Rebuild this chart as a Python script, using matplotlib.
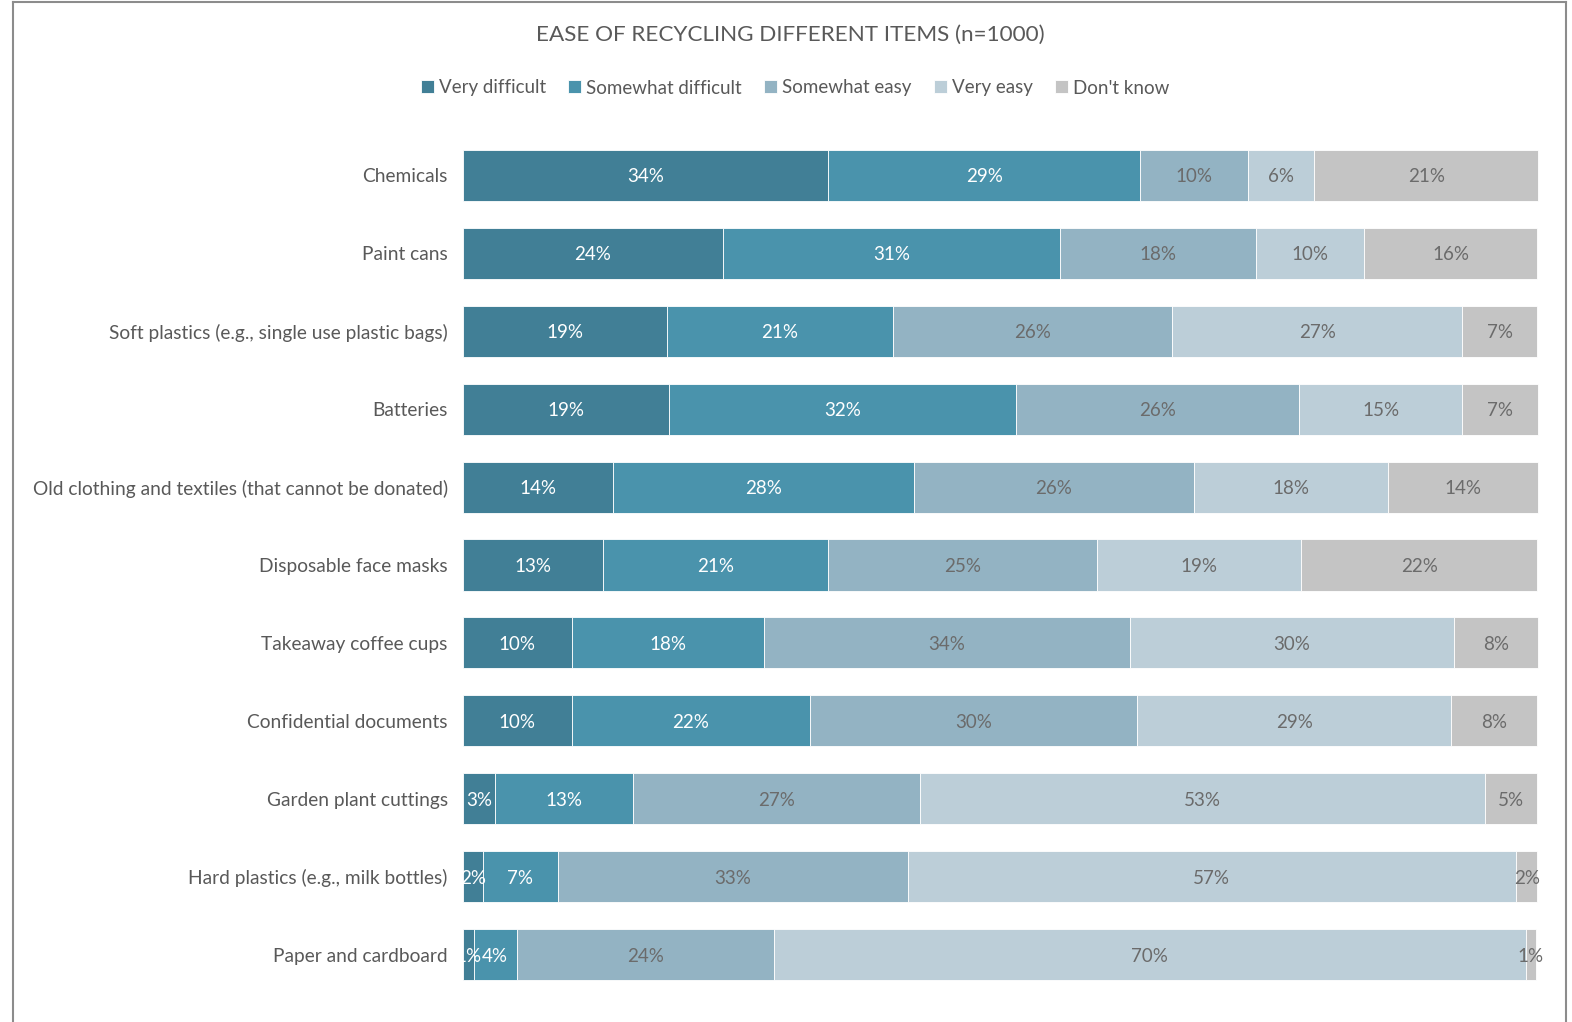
import matplotlib
matplotlib.use("Agg")
from matplotlib import pyplot as plt
from matplotlib.lines import Line2D
import numpy as np

plt.rcParams['font.family'] = ['Lato', 'DejaVu Sans']

# 数据
items = ["Chemicals", "Paint cans", "Soft plastics (e.g., single use plastic bags)",
         "Batteries", "Old clothing and textiles (that cannot be donated)",
         "Disposable face masks", "Takeaway coffee cups", "Confidential documents",
         "Garden plant cuttings", "Hard plastics (e.g., milk bottles)", "Paper and cardboard"]
series = ["Very difficult", "Somewhat difficult", "Somewhat easy", "Very easy", "Don't know"]
very_difficult = [34.0, 24.2, 19.0, 19.2, 14.0, 13.0, 10.1, 10.1, 3.0, 1.9, 1.0]
somewhat_difficult = [29.0, 31.4, 21.0, 32.3, 28.0, 21.0, 17.9, 22.2, 12.8, 6.9, 4.0]
somewhat_easy = [10.1, 18.2, 26.0, 26.3, 26.0, 25.0, 34.1, 30.4, 26.7, 32.6, 23.9]
very_easy = [6.1, 10.1, 27.0, 15.2, 18.1, 19.0, 30.1, 29.3, 52.6, 56.6, 70.0]
dont_know = [20.9, 16.1, 7.0, 7.1, 14.0, 22.0, 7.9, 8.0, 4.9, 2.0, 1.0]

colors = ["#417F96", "#4A93AC", "#93B3C3", "#BCCED8", "#C4C4C4"]
text_colors = ["white", "white", "#6b6b6b", "#6b6b6b", "#6b6b6b"]
grey = "#595959"

fig = plt.figure(figsize=(15.72, 10.22), dpi=100)
W, H = 1572, 1022
ax = fig.add_axes([463 / W, 1 - 993.5 / H, (1546 - 463) / W, (993.5 - 136.5) / H])

y = np.arange(len(items))
left = np.zeros(len(items))
data = [very_difficult, somewhat_difficult, somewhat_easy, very_easy, dont_know]
for vals, name, c, tc in zip(data, series, colors, text_colors):
    vals = np.array(vals)
    ax.barh(y, vals, left=left, height=0.655, color=c, edgecolor="white",
            linewidth=0.6, label=name)
    for yi, l, v in zip(y, left, vals):
        ax.text(l + v / 2, yi, f"{v:.0f}%", ha="center", va="center_baseline",
                color=tc, fontsize=13.5, clip_on=True)
    left = left + vals

ax.set_xlim(0, 100.8)
ax.set_ylim(10.5, -0.5)
ax.set_yticks(y)
ax.set_yticklabels(items, fontsize=13.8, color=grey)
ax.tick_params(axis="y", length=0, pad=11)
ax.set_xticks([])
for s in ax.spines.values():
    s.set_visible(False)

fig.text(790 / W, 1 - 35 / H, "EASE OF RECYCLING DIFFERENT ITEMS (n=1000)",
         ha="center", va="center", fontsize=16.2, color=grey)

handles, labels = ax.get_legend_handles_labels()
fig.legend(handles, labels, loc="center", bbox_to_anchor=(795 / W, 1 - 88 / H),
           ncol=5, frameon=False, fontsize=13.5, labelcolor=grey,
           handlelength=0.7, handleheight=0.7, handletextpad=0.25,
           columnspacing=1.2)

# 外框
fig.add_artist(Line2D([13 / W, 13 / W], [0, 1 - 2 / H], color="#8c8c8c", lw=1.5))
fig.add_artist(Line2D([13 / W, 1566 / W], [1 - 2 / H, 1 - 2 / H], color="#8c8c8c", lw=1.5))
fig.add_artist(Line2D([1566 / W, 1566 / W], [0, 1 - 2 / H], color="#8c8c8c", lw=1.5))

plt.savefig("out.png", dpi=100)
